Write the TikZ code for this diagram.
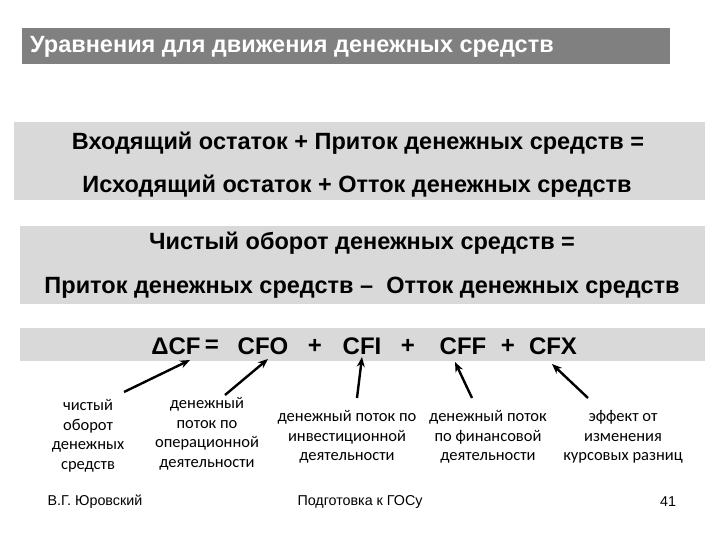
\documentclass[tikz,border=0pt]{standalone}
\usepackage{fontspec}
\setmainfont{Liberation Sans}
\newfontfamily\lblfont{Carlito}
\usetikzlibrary{arrows.meta}
\definecolor{titlegray}{HTML}{808080}
\definecolor{boxgray}{HTML}{D9D9D9}
\begin{document}
\begin{tikzpicture}[x=1pt,y=-1pt,
  bigtxt/.style={font=\fontsize{23.5}{26}\selectfont\bfseries, inner sep=0pt},
  eq/.style={font=\fontsize{24}{26}\selectfont\bfseries, inner sep=0pt},
  lbl/.style={font=\lblfont\fontsize{16.5}{19.5}\selectfont, align=center, inner sep=0pt},
  foot/.style={font=\fontsize{14.3}{16}\selectfont, inner sep=0pt},
  arr/.style={-{Stealth[length=10pt,width=8pt]}, line width=2.4pt}]
\useasboundingbox (0,0) rectangle (720,540);
\fill[white] (0,0) rectangle (720,540);
\fill[titlegray] (22,28) rectangle (670,64);
\node[anchor=west, text=white, font=\fontsize{23.5}{26}\selectfont\bfseries, inner sep=0pt] (title) at (30,47) {Уравнения для движения денежных средств};
\fill[boxgray] (14,122) rectangle (705,200);
\node[bigtxt] (b1a) at (358,143) {Входящий остаток + Приток денежных средств =};
\node[bigtxt] (b1b) at (357,186) {Исходящий остаток + Отток денежных средств};
\fill[boxgray] (20,226) rectangle (705,304);
\node[bigtxt] (b2a) at (362,243) {Чистый оборот денежных средств =};
\node[bigtxt] (b2b) at (362,288) {Приток денежных средств –\ \ Отток денежных средств};
\fill[boxgray] (20,328) rectangle (705,361);
\node[eq] (dcf) at (176,346) {ΔCF};
\node[eq] (e1) at (212,346) {=};
\node[eq] (cfo) at (263,346) {CFO};
\node[eq] (p1) at (315,346) {+};
\node[eq] (cfi) at (362,346) {CFI};
\node[eq] (p2) at (408,346) {+};
\node[eq] (cff) at (463,346) {CFF};
\node[eq] (p3) at (508,346) {+};
\node[eq] (cfx) at (553,346) {CFX};
\coordinate (t1) at (190,360);
\coordinate (t2) at (268,359);
\coordinate (t3) at (362,357);
\coordinate (t4) at (455,362);
\coordinate (t5) at (552,364);
\node[lbl] (l1) at (88,436) {чистый\\оборот\\денежных\\средств};
\node[lbl] (l2) at (207,434) {денежный\\поток по\\операционной\\деятельности};
\node[lbl] (l3) at (347,437) {денежный поток по\\инвестиционной\\деятельности};
\node[lbl] (l4) at (488,437) {денежный поток\\по финансовой\\деятельности};
\node[lbl] (l5) at (623,437) {эффект от\\изменения\\курсовых разниц};
\draw[arr] (124,392) -- (t1);
\draw[arr] (225,395) -- (t2);
\draw[arr] (357,398) -- (t3);
\draw[arr] (472,398) -- (t4);
\draw[arr] (588,398) -- (t5);
\node[foot] (f1) at (95,502) {В.Г. Юровский};
\node[foot] (f2) at (360,502) {Подготовка к ГОСу};
\node[foot] (f3) at (668,502) {41};
\end{tikzpicture}
\end{document}
